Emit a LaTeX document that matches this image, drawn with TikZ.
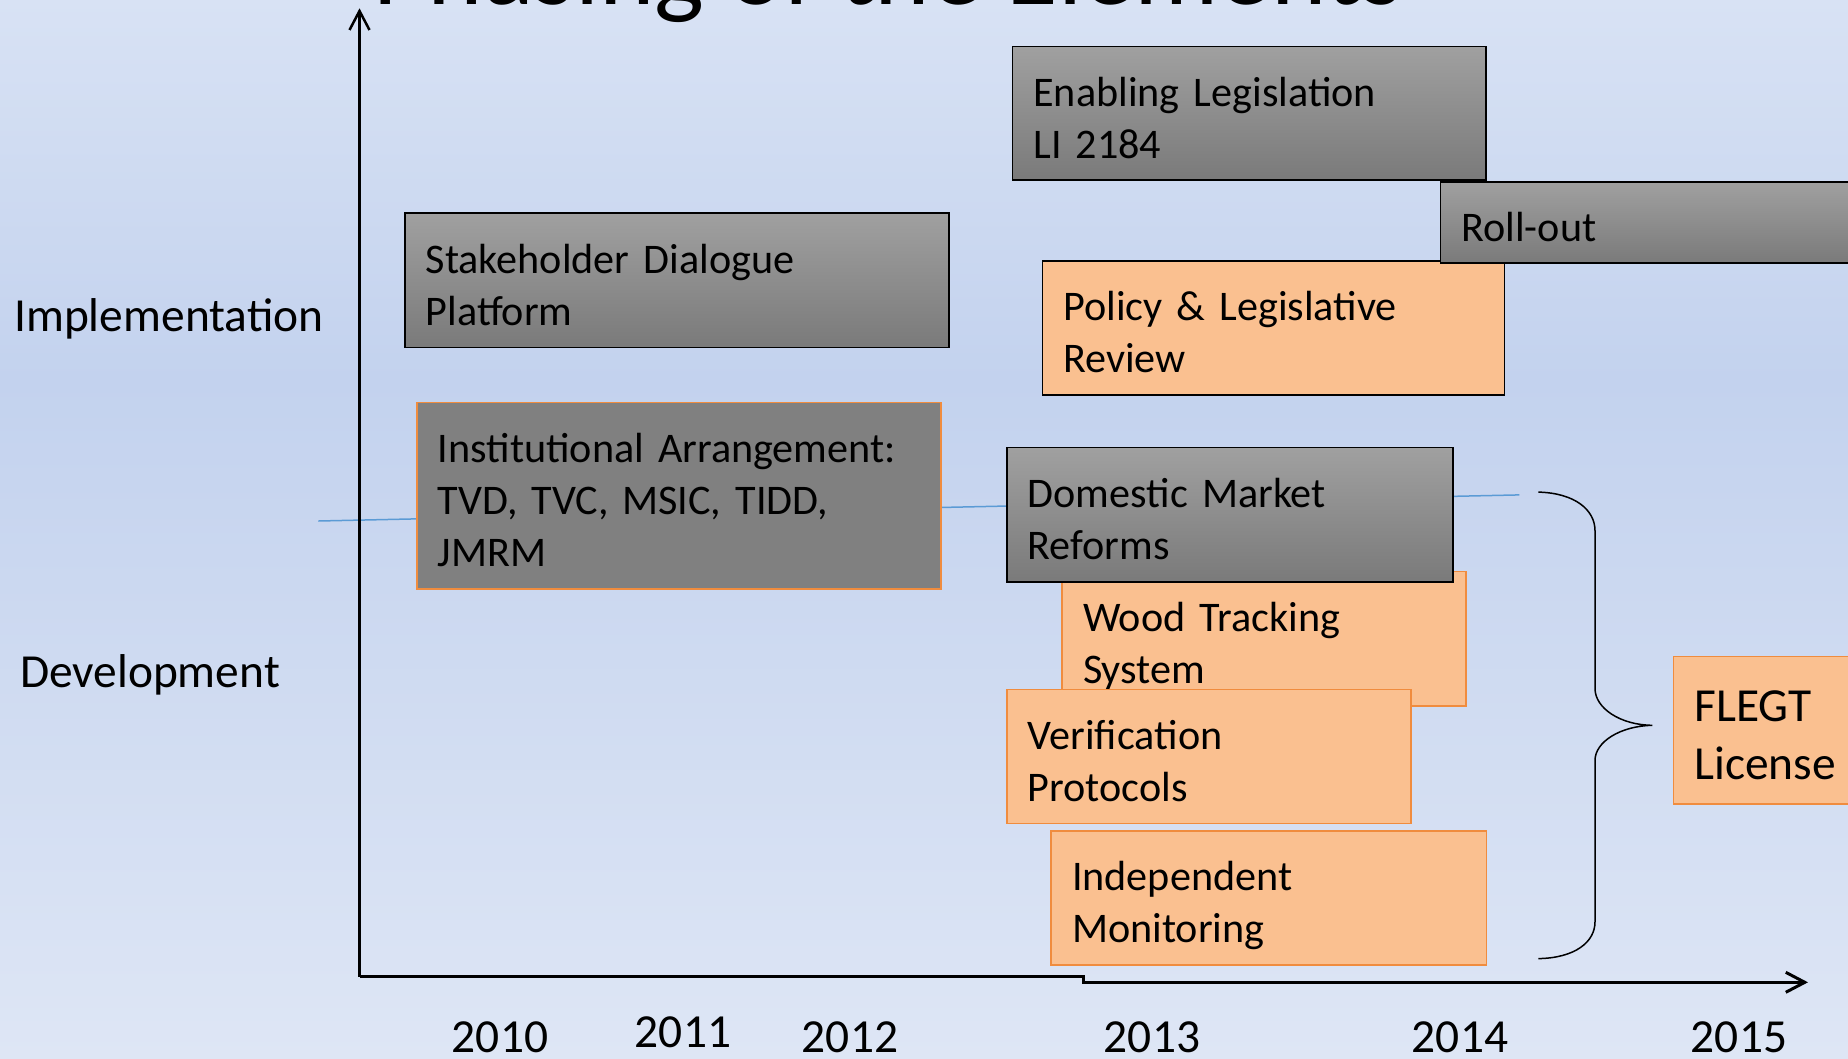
\documentclass[tikz,border=0pt]{standalone}
\usepackage{fontspec}
\setmainfont{Carlito}
\usepackage{xcolor}
\usepackage{tikz}
\usetikzlibrary{arrows.meta}

\definecolor{bgtop}{RGB}{216,226,244}
\definecolor{bgmid}{RGB}{195,210,238}
\definecolor{bgbot}{RGB}{222,230,245}
\definecolor{boxtop}{RGB}{160,160,160}
\definecolor{boxbot}{RGB}{122,122,122}
\definecolor{boxflat}{RGB}{128,128,128}
\definecolor{peach}{RGB}{250,192,144}
\definecolor{peachline}{RGB}{240,140,62}
\definecolor{trendblue}{RGB}{91,155,213}

\begin{document}
\begin{tikzpicture}[x=0.1mm, y=-0.1mm,
    box/.style={anchor=north west, inner xsep=2.1mm, inner ysep=0pt, text height=6mm,
                align=left, line width=0.15mm, font=\fontsize{12pt}{14.8pt}\selectfont},
    graybox/.style={box, draw=black, top color=boxtop, bottom color=boxbot},
    peachbox/.style={box, draw=peachline, fill=peach},
    biglabel/.style={inner sep=0pt, font=\fontsize{13.5pt}{16.5pt}\selectfont},
    yearlabel/.style={biglabel, anchor=base},
    axis/.style={line width=0.25mm, -{Straight Barb[length=1.9mm, width=2mm]}}]

        \useasboundingbox (0,0) rectangle (1848,1058);
        \shade [top color=bgtop, bottom color=bgmid] (0,0)   rectangle (1848,380);   %BG upper
        \shade [top color=bgmid, bottom color=bgbot] (0,380) rectangle (1848,1058);  %BG lower

        \node [anchor=base, inner sep=0pt, font=\fontsize{30pt}{36pt}\selectfont]
              (title) at (888,4) {Phasing of the Elements};                          %TITLE

        \coordinate (blueL)  at (318.4,521);                                         %
        \coordinate (blueR)  at (1519.3,494.9);                                      %
        \draw [trendblue, line width=0.15mm] (blueL) -- (blueR);                     %LINE

        \coordinate (origin) at (359.5,976.5);                                       %
        \coordinate (ytip)   at (359.5,8.3);                                         %
        \coordinate (xstepA) at (1083.5,976.5);                                      %
        \coordinate (xstepB) at (1083.5,982.3);                                      %
        \coordinate (xtip)   at (1808,982.3);                                        %
        \draw [axis]                   (origin) -- (ytip);                           %Y AXIS
        \draw [axis, line width=0.3mm] (origin) -- (xstepA) -- (xstepB) -- (xtip);   %X AXIS

        \node [biglabel, anchor=base west] (impl) at (13.5,331.7) {Implementation};  %
        \node [biglabel, anchor=base west] (devl) at (19.3,687.7) {Development};     %

        \node [graybox, text width=43.14mm, text depth=7.36mm]  (enab)   at (1011.6,45.7)
              {Enabling Legislation\\LI 2184};                                       %ENABLING
        \node [peachbox, draw=black, text width=42.03mm, text depth=7.43mm] (policy) at (1041.5,260)
              {Policy \& Legislative\\Review};                                       %POLICY
        \node [graybox, text width=38.8mm,  text depth=2.13mm]  (roll)   at (1439.6,181)
              {Roll-out};                                                            %ROLL-OUT
        \node [graybox, text width=50.2mm,  text depth=7.44mm]  (stake)  at (404,212.3)
              {Stakeholder Dialogue\\Platform};                                      %STAKEHOLDER
        \node [box, draw=peachline, fill=boxflat, text width=48.2mm, text depth=12.66mm] (inst) at (416,401.7)
              {Institutional Arrangement:\\TVD, TVC, MSIC, TIDD,\\JMRM};            %INSTITUTIONAL
        \node [peachbox, text width=36.2mm,  text depth=7.43mm] (wood)   at (1061.3,570.9)
              {Wood Tracking\\System};                                               %WOOD
        \node [graybox,  text width=40.4mm,  text depth=7.43mm] (market) at (1006,446.9)
              {Domestic Market\\Reforms};                                            %DOMESTIC
        \node [peachbox, text width=36.23mm, text depth=7.43mm] (verif)  at (1006,688.6)
              {Verification\\Protocols};                                             %VERIFICATION
        \node [peachbox, text width=39.34mm, text depth=7.4mm]  (indep)  at (1050.3,830.2)
              {Independent\\Monitoring};                                             %MONITORING
        \node [peachbox, text width=15.8mm, text height=6.53mm, text depth=8.24mm,
               font=\fontsize{13.5pt}{16.5pt}\selectfont] (flegt) at (1672.7,655.5)
              {FLEGT\\License};                                                      %FLEGT

        \coordinate (braceTop) at (1538.3,492.1);                                    %
        \coordinate (braceTip) at (1652.3,725.3);                                    %
        \coordinate (braceBot) at (1538.3,958.6);                                    %
        \draw [line width=0.15mm] (braceTop) .. controls (1575,493) and (1595,510) .. (1595,530.7)
              -- (1595,688.5) .. controls (1595,708) and (1620,725) .. (braceTip)
              .. controls (1620,726) and (1595,742) .. (1595,760.4)
              -- (1595,921.8) .. controls (1595,942) and (1575,958) .. (braceBot);   %BRACE

        \node [yearlabel] (y2010) at (500,1052)  {2010};                             %
        \node [yearlabel] (y2011) at (683,1047)  {2011};                             %
        \node [yearlabel] (y2012) at (850,1052)  {2012};                             %
        \node [yearlabel] (y2013) at (1152,1052) {2013};                             %
        \node [yearlabel] (y2014) at (1460,1052) {2014};                             %
        \node [yearlabel] (y2015) at (1739,1052) {2015};                             %
      \end{tikzpicture}
\end{document}
